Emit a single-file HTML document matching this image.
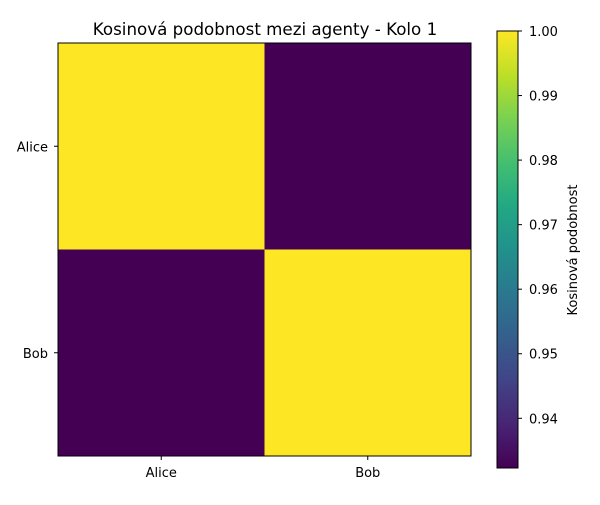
<!DOCTYPE html>
<html><head><meta charset="utf-8"><style>
body{margin:0;background:#fff}
svg{font-family:"DejaVu Sans","Liberation Sans",sans-serif}
</style></head><body>
<svg id="c" width="600" height="500" xmlns="http://www.w3.org/2000/svg">
<defs><linearGradient id="vir" x1="0" y1="1" x2="0" y2="0">
<stop offset="0" stop-color="#440154"/><stop offset="0.1" stop-color="#482475"/><stop offset="0.2" stop-color="#414487"/><stop offset="0.3" stop-color="#355f8d"/><stop offset="0.4" stop-color="#2a788e"/><stop offset="0.5" stop-color="#21918c"/><stop offset="0.6" stop-color="#22a884"/><stop offset="0.7" stop-color="#44bf70"/><stop offset="0.8" stop-color="#7ad151"/><stop offset="0.9" stop-color="#bddf26"/><stop offset="1" stop-color="#fde725"/>
</linearGradient></defs>
<text x="265" y="35" font-size="16.7" text-anchor="middle">Kosinová podobnost mezi agenty - Kolo 1</text>
<g id="cells"></g>
<rect x="58" y="43" width="413" height="413" fill="none" stroke="#000" stroke-width="1"/>
<g id="axes"></g>
<rect x="497" y="31" width="21" height="437" fill="url(#vir)" stroke="#000" stroke-width="1"/>
<g id="cbticks"></g>
<text transform="translate(577,250) rotate(-90)" font-size="13" text-anchor="middle">Kosinová podobnost</text>
</svg>
<script>
const agents=["Alice","Bob"];
const values=[[1.0,0.9323],[0.9323,1.0]];
const cbTicks=[0.94,0.95,0.96,0.97,0.98,0.99,1.00];
const vmin=0.9323, vmax=1.0;
const ns="http://www.w3.org/2000/svg";
const X0=58,Y0=43,S=413,n=agents.length,cw=S/n;
const cbTop=31,cbBot=468;
function cy(v){return cbBot-(v-vmin)/(vmax-vmin)*(cbBot-cbTop);}
const vir=["#440154","#482475","#414487","#355f8d","#2a788e","#21918c","#22a884","#44bf70","#7ad151","#bddf26","#fde725"];
function h2r(h){return [1,3,5].map(i=>parseInt(h.substr(i,2),16));}
function color(v){let t=Math.max(0,Math.min(1,(v-vmin)/(vmax-vmin)))*10;let i=Math.min(9,Math.floor(t)),f=t-i;const a=h2r(vir[i]),b=h2r(vir[i+1]);return "rgb("+a.map((x,k)=>Math.round(x+(b[k]-x)*f)).join(",")+")";}
function mk(t,a,p){const e=document.createElementNS(ns,t);for(const k in a)e.setAttribute(k,a[k]);p.appendChild(e);return e;}
const cells=document.getElementById('cells'),axes=document.getElementById('axes'),cb=document.getElementById('cbticks');
values.forEach((row,r)=>row.forEach((v,c)=>{
 const e=mk('rect',{x:X0+c*cw,y:Y0+r*cw,width:cw,height:cw,fill:color(v)},cells);
 
 
}));
agents.forEach((a,i)=>{
 const cx=X0+(i+0.5)*cw;
 mk('line',{x1:cx,y1:456,x2:cx,y2:460,stroke:'#000'},axes);
 const t=mk('text',{x:cx,y:477,'font-size':13,'text-anchor':'middle'},axes);t.textContent=a;
 
 
 const yy=Y0+(i+0.5)*cw;
 mk('line',{x1:54,y1:yy,x2:58,y2:yy,stroke:'#000'},axes);
 const t2=mk('text',{x:48,y:yy+5,'font-size':13,'text-anchor':'end'},axes);t2.textContent=a;
 
 
});
cbTicks.forEach(v=>{
 const y=cy(v);
 mk('line',{x1:518,y1:y,x2:522,y2:y,stroke:'#000'},cb);
 const t=mk('text',{x:529,y:y+5,'font-size':13},cb);t.textContent=v.toFixed(2);
 
 
});
</script>
</body></html>
